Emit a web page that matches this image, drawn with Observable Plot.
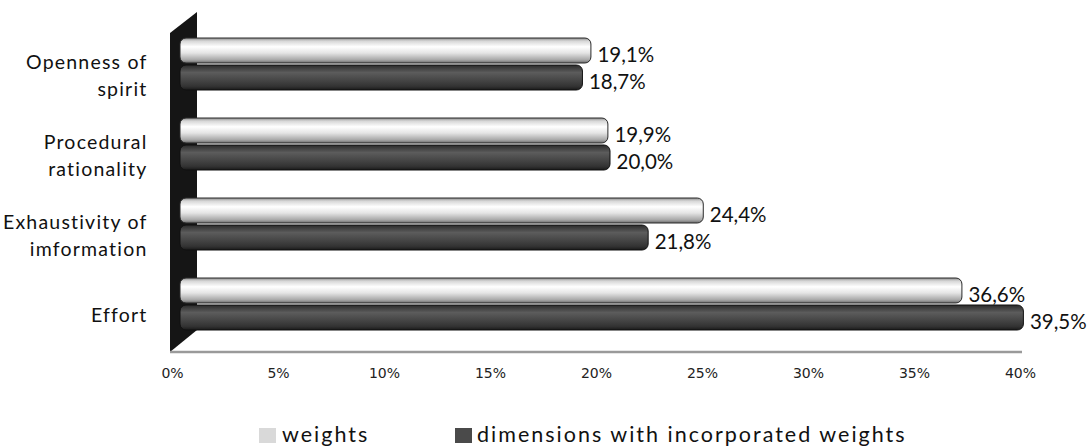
<!DOCTYPE html>
<html>
<head>
<meta charset="utf-8">
<script src="https://cdn.jsdelivr.net/npm/d3@7"></script>
<script src="https://cdn.jsdelivr.net/npm/@observablehq/plot@0.6"></script>
<style>
  html, body { margin: 0; padding: 0; background: #fff; }
  #wrap { position: relative; width: 1091px; height: 448px; font-family: Lato, sans-serif; }
  #legend { position: absolute; top: 420px; left: 0; width: 1091px; height: 28px; font-family: Lato, sans-serif; font-size: 21.5px; letter-spacing: 2px; color: #111; }
  .sw { position: absolute; width: 17px; height: 15px; }
  .lt { position: absolute; top: 2px; line-height: 24px; white-space: nowrap; }
</style>
</head>
<body>
<svg width="0" height="0" style="position:absolute">
  <defs>
    <linearGradient id="gLight" x1="0" y1="0" x2="0" y2="1">
      <stop offset="0" stop-color="#8a8a8a"/>
      <stop offset="0.12" stop-color="#d6d6d6"/>
      <stop offset="0.35" stop-color="#ffffff"/>
      <stop offset="0.6" stop-color="#e4e4e4"/>
      <stop offset="0.88" stop-color="#a6a6a6"/>
      <stop offset="1" stop-color="#6a6a6a"/>
    </linearGradient>
    <linearGradient id="gDark" x1="0" y1="0" x2="0" y2="1">
      <stop offset="0" stop-color="#2a2a2a"/>
      <stop offset="0.3" stop-color="#5c5c5c"/>
      <stop offset="0.55" stop-color="#4a4a4a"/>
      <stop offset="0.85" stop-color="#333333"/>
      <stop offset="1" stop-color="#1a1a1a"/>
    </linearGradient>
  </defs>
</svg>
<div id="wrap">
  <div id="chart"></div>
  <div id="legend"></div>
</div>
<script>
// ---- data ----
const categories = ["Openness of spirit", "Procedural rationality", "Exhaustivity of imformation", "Effort"];
const categoryLabels = ["Openness of\nspirit", "Procedural\nrationality", "Exhaustivity of\nimformation", "Effort"];
const weights = [19.1, 19.9, 24.4, 36.6];
const incorporated = [18.7, 20.0, 21.8, 39.5];
const seriesNames = ["weights", "dimensions with incorporated weights"];
const xTicks = [0, 5, 10, 15, 20, 25, 30, 35, 40];
const xTickLabels = ["0%", "5%", "10%", "15%", "20%", "25%", "30%", "35%", "40%"];
const valueLabelsW = ["19,1%", "19,9%", "24,4%", "36,6%"];
const valueLabelsD = ["18,7%", "20,0%", "21,8%", "39,5%"];

const rowsW = categories.map((c, i) => ({category: c, value: weights[i], label: valueLabelsW[i], series: seriesNames[0]}));
const rowsD = categories.map((c, i) => ({category: c, value: incorporated[i], label: valueLabelsD[i], series: seriesNames[1]}));
const tickRows = xTicks.map((t, i) => ({t, label: xTickLabels[i]}));
const labelOf = new Map(categories.map((c, i) => [c, categoryLabels[i]]));

const H = 400, MB = 48;
const plot = Plot.plot({
  width: 1091,
  height: H,
  marginLeft: 172,
  marginRight: 71,
  marginTop: 10,
  marginBottom: MB,
  style: {fontFamily: "Lato, sans-serif", color: "#111", background: "transparent", overflow: "visible"},
  x: {domain: [0, 40], axis: null},
  y: {domain: categories, range: [37, 330], paddingInner: 0.35, paddingOuter: 0},
  marks: [
    Plot.text(tickRows, {x: "t", text: "label", frameAnchor: "bottom", dy: 25, fontFamily: "DejaVu Sans, sans-serif", fontSize: 14, fill: "#222"}),
    Plot.axisY({tickSize: 0, tickPadding: 25, tickFormat: d => labelOf.get(d), fontSize: 19.5, lineHeight: 1.42, dy: 9, fill: "#111", label: null}),
    Plot.barX(rowsW, {x: "value", y: "category", fill: "url(#gLight)", stroke: "#2a2a2a", strokeWidth: 1, insetBottom: 27, insetLeft: -6, dx: 14, rx: 6}),
    Plot.barX(rowsD, {x: "value", y: "category", fill: "url(#gDark)", stroke: "#111", strokeWidth: 1, insetTop: 27, insetLeft: -6, dx: 14, rx: 6}),
    Plot.text(rowsW, {x: "value", y: "category", text: "label", textAnchor: "start", dx: 20, dy: -9.5, fontSize: 20.5, fill: "#111"}),
    Plot.text(rowsD, {x: "value", y: "category", text: "label", textAnchor: "start", dx: 20, dy: 18, fontSize: 20.5, fill: "#111"})
  ]
});

// 3D wall and floor derived from scales
const xs = plot.scale("x"), ys = plot.scale("y");
const x0 = xs.apply(0), x40 = xs.apply(40);
const yTop = ys.range[0], yBot = ys.range[1];
const floorY = H - MB;
const ns = "http://www.w3.org/2000/svg";
const deco = document.createElementNS(ns, "g");
const wall = document.createElementNS(ns, "polygon");
wall.setAttribute("points", `${x0 - 2},${yTop - 4} ${x0 + 25},${yTop - 25} ${x0 + 25},${yBot} ${x0 - 2},${floorY}`);
wall.setAttribute("fill", "#151515");
deco.appendChild(wall);
const floor = document.createElementNS(ns, "line");
floor.setAttribute("x1", x0 - 2); floor.setAttribute("x2", x40 + 2);
floor.setAttribute("y1", floorY); floor.setAttribute("y2", floorY);
floor.setAttribute("stroke", "#9a9a9a"); floor.setAttribute("stroke-width", 2.5);
deco.appendChild(floor);
const firstG = plot.querySelector("g");
plot.insertBefore(deco, firstG);

plot.querySelectorAll('[aria-label="y-axis tick label"] text').forEach(t => t.style.letterSpacing = "1.2px");

document.getElementById("chart").appendChild(plot);

// legend
const legend = document.getElementById("legend");
const legendItems = [
  {name: seriesNames[0], color: "#d9d9d9", sx: 259, tx: 282},
  {name: seriesNames[1], color: "#4a4a4a", sx: 455, tx: 477}
];
legendItems.forEach(it => {
  const s = document.createElement("div");
  s.className = "sw"; s.style.left = it.sx + "px"; s.style.top = "8px"; s.style.background = it.color;
  legend.appendChild(s);
  const t = document.createElement("div");
  t.className = "lt"; t.style.left = it.tx + "px"; t.textContent = it.name;
  legend.appendChild(t);
});
</script>
</body>
</html>
